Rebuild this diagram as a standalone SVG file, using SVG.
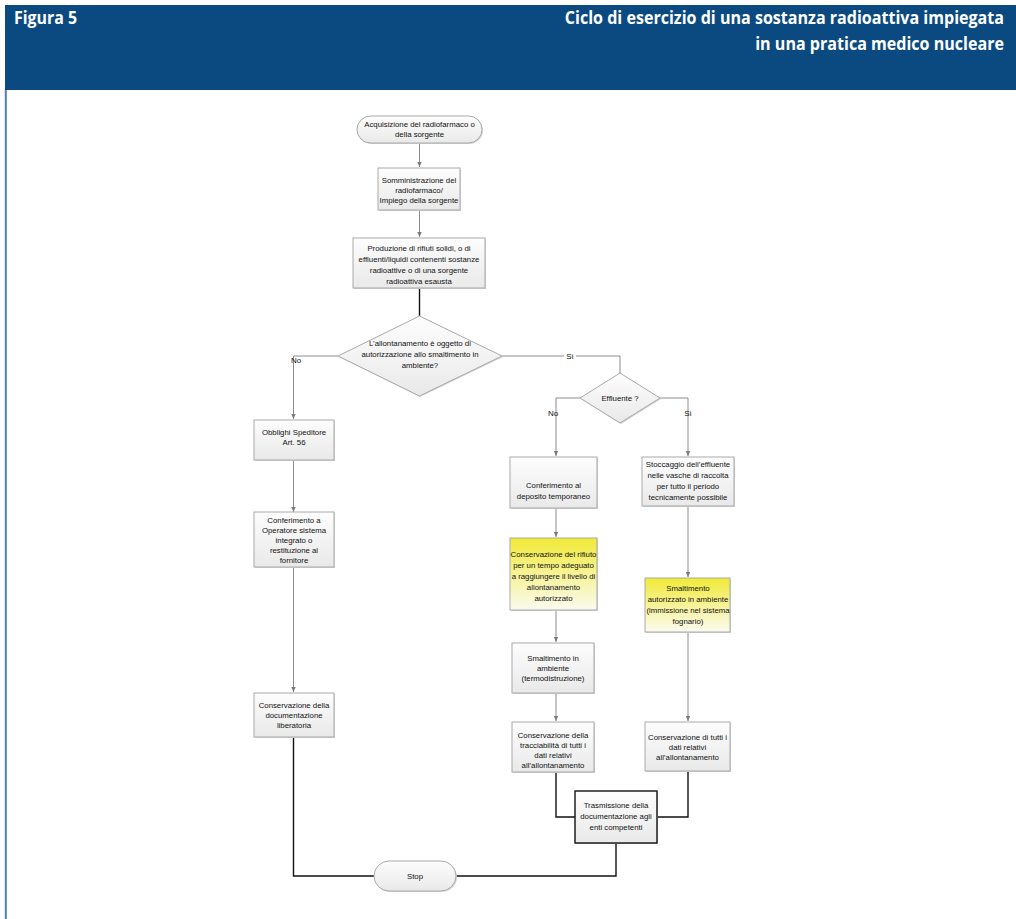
<svg xmlns="http://www.w3.org/2000/svg" width="1016" height="919" viewBox="0 0 1016 919">
<style>
.hdr{font-family:"Open Sans","Liberation Sans",sans-serif;font-weight:bold;fill:#ffffff;font-size:18px}
.t{font-family:"Liberation Sans","DejaVu Sans",sans-serif;font-size:7.8px;fill:#111;text-anchor:middle}
.box{fill:url(#gbox);stroke:#a9a9a9;stroke-width:1}
.ybox{fill:url(#gyel);stroke:#a9a9a9;stroke-width:1}
.bbox{fill:url(#gbox);stroke:#111;stroke-width:1.4}
.sh{fill:#d4d4d4}
.c{fill:none;stroke:#8c8c8c;stroke-width:1}
.k{fill:none;stroke:#111;stroke-width:1.4}
.lbl{font-family:"Liberation Sans","DejaVu Sans",sans-serif;font-size:8px;fill:#111;text-anchor:middle}
</style>
<defs>
<linearGradient id="gbox" x1="0" y1="0" x2="0" y2="1"><stop offset="0" stop-color="#fdfdfd"/><stop offset="1" stop-color="#e9e9e9"/></linearGradient>
<linearGradient id="gyel" x1="0" y1="0" x2="0" y2="1"><stop offset="0" stop-color="#f1ea35"/><stop offset="0.55" stop-color="#f7f3a0"/><stop offset="1" stop-color="#fbfbf0"/></linearGradient>
<marker id="ar" markerWidth="6" markerHeight="6" refX="5" refY="3" orient="auto" markerUnits="userSpaceOnUse"><path d="M0,0.8 L5,3 L0,5.2 Z" fill="#7a7a7a"/></marker>
</defs>
<rect x="0" y="0" width="1016" height="919" fill="#ffffff"/>
<g id="header">
<rect x="5" y="5" width="1011" height="85" fill="#0b4a80"/>
<line x1="5.8" y1="90" x2="5.8" y2="919" stroke="#4f81b3" stroke-width="2"/>
<g transform="translate(14,24) scale(0.8,1)"><text class="hdr" x="0" y="0" textLength="79" lengthAdjust="spacingAndGlyphs">Figura 5</text></g>
<g transform="translate(1004,24) scale(0.8,1)"><text class="hdr" x="0" y="0" text-anchor="end" textLength="549" lengthAdjust="spacingAndGlyphs">Ciclo di esercizio di una sostanza radioattiva impiegata</text></g>
<g transform="translate(1004,50) scale(0.8,1)"><text class="hdr" x="0" y="0" text-anchor="end" textLength="311" lengthAdjust="spacingAndGlyphs">in una pratica medico nucleare</text></g>
</g>
<g id="connectors">
<path class="c" d="M419.5,143 V167" marker-end="url(#ar)"/>
<path class="c" d="M419.5,210 V237" marker-end="url(#ar)"/>
<path class="k" d="M419.5,288 V316"/>
<path class="c" d="M338,356 H293.5 V419" marker-end="url(#ar)"/>
<path class="c" d="M502,356 H620 V373"/>
<path class="c" d="M580,398 H556 V456" marker-end="url(#ar)"/>
<path class="c" d="M660,398 H688 V456" marker-end="url(#ar)"/>
<path class="c" d="M293.5,460 V512" marker-end="url(#ar)"/>
<path class="c" d="M293.5,567 V692" marker-end="url(#ar)"/>
<path class="c" d="M556,509 V537" marker-end="url(#ar)"/>
<path class="c" d="M688,506 V577" marker-end="url(#ar)"/>
<path class="c" d="M556,610 V642" marker-end="url(#ar)"/>
<path class="c" d="M688,632 V721" marker-end="url(#ar)"/>
<path class="c" d="M556,693 V721" marker-end="url(#ar)"/>
<path class="k" d="M293.5,737 V876 H374"/>
<path class="k" d="M456,876 H616 V843"/>
<path class="k" d="M556,772 V817 H575"/>
<path class="k" d="M688,771 V817 H657"/>
<rect x="564" y="351" width="12" height="9" fill="#ffffff"/>
<text class="lbl" x="296" y="363">No</text>
<text class="lbl" x="570" y="358.5">Sì</text>
<text class="lbl" x="553" y="416">No</text>
<text class="lbl" x="688" y="416">Sì</text>
</g>
<g id="n-start">
<rect x="358" y="117" width="125" height="27" rx="13.5" class="sh"/>
<rect x="357" y="116" width="125" height="27" rx="13.5" class="box"/>
<text class="t" x="419.5" y="127">Acquisizione del radiofarmaco o</text>
<text class="t" x="419.5" y="137">della sorgente</text>
</g>
<g id="n-somm">
<rect x="379" y="169" width="82" height="42" class="sh"/>
<rect x="378" y="168" width="82" height="42" class="box"/>
<text class="t" x="419" y="183">Somministrazione del</text>
<text class="t" x="419" y="193">radiofarmaco/</text>
<text class="t" x="419" y="203">Impiego della sorgente</text>
</g>
<g id="n-prod">
<rect x="354" y="239" width="132" height="50" class="sh"/>
<rect x="353" y="238" width="132" height="50" class="box"/>
<text class="t" x="419" y="251">Produzione di rifiuti solidi, o di</text>
<text class="t" x="419" y="262">effluenti/liquidi contenenti sostanze</text>
<text class="t" x="419" y="273">radioattive o di una sorgente</text>
<text class="t" x="419" y="284">radioattiva esausta</text>
</g>
<g id="n-dec1">
<polygon points="420,317 503,357 420,397 339,357" class="sh"/>
<polygon points="419.5,316 502,356 419.5,396 338,356" class="box"/>
<text class="t" x="420" y="346">L’allontanamento è oggetto di</text>
<text class="t" x="420" y="357">autorizzazione allo smaltimento in</text>
<text class="t" x="420" y="368">ambiente?</text>
</g>
<g id="n-obbl">
<rect x="255" y="421" width="80" height="40" class="sh"/>
<rect x="254" y="420" width="80" height="40" class="box"/>
<text class="t" x="294" y="435">Obblighi Speditore</text>
<text class="t" x="294" y="445">Art. 56</text>
</g>
<g id="n-conf-op">
<rect x="255" y="513" width="80" height="55" class="sh"/>
<rect x="254" y="512" width="80" height="55" class="box"/>
<text class="t" x="294" y="523">Conferimento a</text>
<text class="t" x="294" y="533">Operatore sistema</text>
<text class="t" x="294" y="543">integrato o</text>
<text class="t" x="294" y="553">restituzione al</text>
<text class="t" x="294" y="563">fornitore</text>
</g>
<g id="n-cons-lib">
<rect x="255" y="694" width="80" height="44" class="sh"/>
<rect x="254" y="693" width="80" height="44" class="box"/>
<text class="t" x="294" y="708">Conservazione della</text>
<text class="t" x="294" y="718">documentazione</text>
<text class="t" x="294" y="728">liberatoria</text>
</g>
<g id="n-dec2">
<polygon points="621,374 661,399 621,424 581,399" class="sh"/>
<polygon points="620,373 660,398 620,423 580,398" class="box"/>
<text class="t" x="620" y="401">Effluente ?</text>
</g>
<g id="n-conf-dep">
<rect x="511" y="458" width="87" height="51" class="sh"/>
<rect x="510" y="457" width="87" height="51" class="box"/>
<text class="t" x="553.5" y="488">Conferimento al</text>
<text class="t" x="553.5" y="499">deposito temporaneo</text>
</g>
<g id="n-stocc">
<rect x="643" y="458" width="92" height="49" class="sh"/>
<rect x="642" y="457" width="92" height="49" class="box"/>
<text class="t" x="688" y="467">Stoccaggio dell’effluente</text>
<text class="t" x="688" y="478">nelle vasche di raccolta</text>
<text class="t" x="688" y="489">per tutto il periodo</text>
<text class="t" x="688" y="500">tecnicamente possibile</text>
</g>
<g id="n-cons-rif">
<rect x="511" y="539" width="87" height="72" class="sh"/>
<rect x="510" y="538" width="87" height="72" class="ybox"/>
<text class="t" x="553.5" y="557">Conservazione del rifiuto</text>
<text class="t" x="553.5" y="568">per un tempo adeguato</text>
<text class="t" x="553.5" y="579">a raggiungere il livello di</text>
<text class="t" x="553.5" y="590">allontanamento</text>
<text class="t" x="553.5" y="601">autorizzato</text>
</g>
<g id="n-smalt-aut">
<rect x="646" y="579" width="85" height="54" class="sh"/>
<rect x="645" y="578" width="85" height="54" class="ybox"/>
<text class="t" x="688" y="591">Smaltimento</text>
<text class="t" x="688" y="602">autorizzato in ambiente</text>
<text class="t" x="688" y="613">(immissione nel sistema</text>
<text class="t" x="688" y="624">fognario)</text>
</g>
<g id="n-smalt-term">
<rect x="513" y="644" width="82" height="50" class="sh"/>
<rect x="512" y="643" width="82" height="50" class="box"/>
<text class="t" x="553" y="661">Smaltimento in</text>
<text class="t" x="553" y="671">ambiente</text>
<text class="t" x="553" y="681">(termodistruzione)</text>
</g>
<g id="n-cons-tracc">
<rect x="513" y="723" width="82" height="50" class="sh"/>
<rect x="512" y="722" width="82" height="50" class="box"/>
<text class="t" x="553" y="738">Conservazione della</text>
<text class="t" x="553" y="748">tracciabilità di tutti i</text>
<text class="t" x="553" y="758">dati relativi</text>
<text class="t" x="553" y="768">all’allontanamento</text>
</g>
<g id="n-cons-dati">
<rect x="646" y="723" width="85" height="49" class="sh"/>
<rect x="645" y="722" width="85" height="49" class="box"/>
<text class="t" x="687.5" y="740">Conservazione di tutti i</text>
<text class="t" x="687.5" y="750">dati relativi</text>
<text class="t" x="687.5" y="760">all’allontanamento</text>
</g>
<g id="n-trasm">
<rect x="576" y="792" width="82" height="52" class="sh"/>
<rect x="575" y="791" width="82" height="52" class="bbox"/>
<text class="t" x="616" y="808">Trasmissione della</text>
<text class="t" x="616" y="819">documentazione agli</text>
<text class="t" x="616" y="830">enti competenti</text>
</g>
<g id="n-stop">
<rect x="375" y="862" width="82" height="30" rx="15" class="sh"/>
<rect x="374" y="861" width="82" height="30" rx="15" class="box"/>
<text class="t" x="415" y="879">Stop</text>
</g>
</svg>
